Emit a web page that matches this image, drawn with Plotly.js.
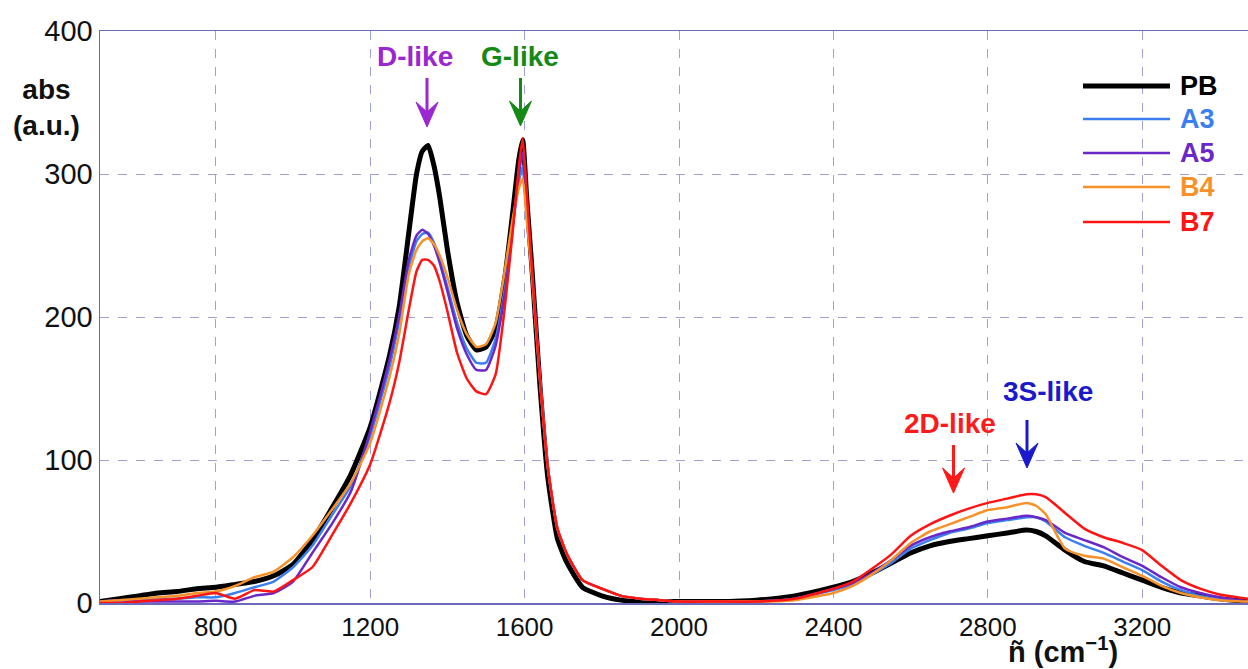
<!DOCTYPE html>
<html>
<head>
<meta charset="utf-8">
<script src="https://cdn.plot.ly/plotly-3.0.1.min.js"></script>
<style>html,body{margin:0;padding:0;background:#fff;}#chart{width:1248px;height:669px;}</style>
</head>
<body>
<div id="chart"></div>
<script>
const wavenumber = [500,550,600,650,700,750,800,850,900,950,1000,1050,1100,1150,1200,1250,1275,1300,1320,1335,1350,1365,1380,1400,1425,1450,1475,1500,1525,1550,1570,1585,1595,1605,1620,1640,1660,1685,1710,1750,1800,1850,1900,1950,2000,2100,2200,2300,2400,2450,2500,2550,2600,2650,2700,2750,2800,2850,2900,2925,2950,3000,3050,3100,3150,3200,3250,3300,3350,3400,3475];

const PB = [1,3,5,7,8,10,11,13,15,19,27,44,66,90,123,173,207,259,300,316,320,306,284,247,210,187,177,179,192,230,275,310,324,285,230,151,88,45,28,11,5,2,1,1,1,1,2,5,11,15,21,28,35,40,43,45,47,49,51,50,47,37,29,26,21,16,11,7,5,3,1];
const A3 = [1,2,2,3,3,4,4,7,11,15,25,40,61,82,117,165,197,235,253,258,259,252,240,221,196,178,168,168,185,222,265,295,305,275,228,156,95,52,34,16,10,5,3,2,1,1,1,3,9,13,20,28,38,44,49,52,56,58,60,60,57,46,40,35,29,23,15,9,5,3,1];
const A5 = [1,2,1,1,1,1,1.5,1,5,7,15,35,55,78,120,170,201,240,257,261,258,250,238,218,192,174,163,163,180,218,265,300,315,280,228,156,95,52,34,16,10,5,3,2,1,1,1,3,10,14,21,30,40,46,50,53,57,59,61,60,58,49,44,39,32,26,18,11,7,4,1];
const B4 = [1,2,3,4,5,7,8,12,18,22,32,47,65,84,112,158,188,230,247,253,255,251,243,228,205,188,179,181,196,235,270,290,297,270,225,155,95,52,34,16,10,5,3,2,1,1,1,2,7,12,20,30,42,50,55,60,65,67,70,68,62,38,33,31,25,19,12,7,4,2,1];
const B7 = [0,0,1,2,3,5,7,3,9,8,16,25,47,70,97,140,168,205,232,240,240,236,225,204,175,157,148,146,160,210,262,305,325,290,230,156,95,52,34,16,10,5,3,2,1,1,1,3,10,15,24,34,47,55,61,66,70,73,76,76,74,63,52,46,42,37,26,16,10,6,3];

const seriesNames = ['PB','A3','A5','B4','B7'];
const seriesData = [PB, A3, A5, B4, B7];
const seriesColors = ['#000000','#3a7ff0','#6a28c8','#f7922a','#ff1414'];
const seriesWidths = [5, 2.5, 2.5, 2.5, 2.5];

const xTicks = [800,1200,1600,2000,2400,2800,3200];
const yTicks = [0,100,200,300,400];

const FONT = 'Arial, "Liberation Sans", sans-serif';

const traces = seriesNames.map((n,i)=>({
  x: wavenumber, y: seriesData[i], type:'scatter', mode:'lines', name:n,
  line:{color:seriesColors[i], width:seriesWidths[i], shape:'spline', smoothing:0.5},
  showlegend:false, hoverinfo:'skip'
}));

// geometry helpers (paper coords from pixel positions)
const L=100, T=31, W=1148, H=572;
const px = v => (v-L)/W;
const py = v => (T+H-v)/H;

const shapes = [];
const annotations = [];
const legY = [86,119,153,187,222];
seriesNames.forEach((n,i)=>{
  shapes.push({type:'line', xref:'paper', yref:'paper', x0:px(1083), x1:px(1170), y0:py(legY[i]), y1:py(legY[i]),
    line:{color:seriesColors[i], width: i===0?5:2.5}});
  annotations.push({xref:'paper', yref:'paper', x:px(1178), y:py(legY[i]), xanchor:'left', yanchor:'middle',
    text:'<b>'+n+'</b>', showarrow:false, font:{family:FONT, size:27, color:seriesColors[i]}});
});

// peak labels with arrows (arrow x in pixel positions of the reference)
const peakLabels = [
  {text:'D-like', color:'#9b27d0', tx:415, ty:57, axp:427, top:78, tip:127},
  {text:'G-like', color:'#148a14', tx:520, ty:57, axp:520.5, top:78, tip:126},
  {text:'2D-like', color:'#ff1a1a', tx:950, ty:423, axp:953.5, top:445, tip:493},
  {text:'3S-like', color:'#1a1acc', tx:1048, ty:392, axp:1027, top:420, tip:468}
];
peakLabels.forEach(p=>{
  annotations.push({xref:'paper', yref:'paper', x:px(p.tx), y:py(p.ty), xanchor:'center', yanchor:'middle',
    text:'<b>'+p.text+'</b>', showarrow:false, font:{family:FONT, size:28, color:p.color}});
  shapes.push({type:'line', xref:'paper', yref:'paper', x0:px(p.axp), x1:px(p.axp), y0:py(p.top), y1:py(p.tip-12),
    line:{color:p.color, width:3}});
  const path = 'M '+px(p.axp)+','+py(p.tip)+
    ' L '+px(p.axp-11)+','+py(p.tip-25)+
    ' L '+px(p.axp)+','+py(p.tip-15)+
    ' L '+px(p.axp+11)+','+py(p.tip-25)+' Z';
  shapes.push({type:'path', xref:'paper', yref:'paper', path:path, fillcolor:p.color, line:{color:p.color, width:1}});
});

// axis titles
annotations.push({xref:'paper', yref:'paper', x:px(46), y:py(108), xanchor:'center', yanchor:'middle',
  text:'<b>abs<br>(a.u.)</b>', showarrow:false, font:{family:FONT, size:28, color:'#111'}});
annotations.push({xref:'paper', yref:'paper', x:px(1063), y:py(650), xanchor:'center', yanchor:'middle',
  text:'<b>ñ (cm<sup>−1</sup>)</b>', showarrow:false, font:{family:FONT, size:29, color:'#111'}});

const layout = {
  width:1248, height:669,
  margin:{l:L, r:0, t:T, b:669-T-H},
  paper_bgcolor:'#ffffff', plot_bgcolor:'#ffffff',
  showlegend:false,
  xaxis:{range:[500,3474], tickvals:xTicks, ticktext:xTicks.map(String), showgrid:true,
    gridcolor:'#a0a0d4', griddash:'dash', gridwidth:1, zeroline:false,
    showline:true, linecolor:'#6a6ab8', linewidth:1.5, mirror:true, ticks:'',
    tickfont:{family:FONT, size:26, color:'#111'}},
  yaxis:{range:[0,400], tickvals:yTicks, ticktext:yTicks.map(String), showgrid:true,
    gridcolor:'#a0a0d4', griddash:'dash', gridwidth:1, zeroline:false,
    showline:true, linecolor:'#6a6ab8', linewidth:1.5, mirror:true, ticks:'',
    tickfont:{family:FONT, size:29, color:'#111'}},
  shapes: shapes,
  annotations: annotations
};

Plotly.newPlot('chart', traces, layout, {staticPlot:true, displayModeBar:false});
</script>
</body>
</html>
